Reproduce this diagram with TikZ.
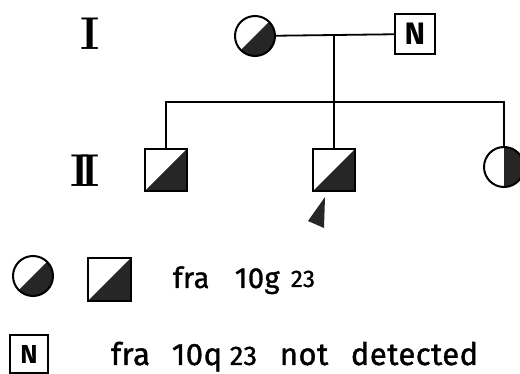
\documentclass[tikz,border=0pt]{standalone}
\usepackage{fontspec}
\newfontfamily\lgd{Fira Sans}[LetterSpace=1.5,FakeBold=1.2]
\newfontfamily\lgdN{Fira Sans}
\begin{document}
\begin{tikzpicture}[x=1pt,y=-1pt,line width=1.8pt,
  fillc/.style={black!85},
  halfsq/.style={draw, rectangle, minimum size=#1, inner sep=0pt, line width=2pt,
    path picture={\fill[fillc] (path picture bounding box.south west) -- (path picture bounding box.north east) -- (path picture bounding box.south east) -- cycle;}},
  halfci/.style={draw, circle, minimum size=#1, inner sep=0pt, line width=2pt,
    path picture={\fill[fillc] (path picture bounding box.south west) -- (path picture bounding box.north east) -- (path picture bounding box.south east) -- cycle;}},
  vhalfci/.style={draw, circle, minimum size=#1, inner sep=0pt, line width=2pt,
    path picture={\fill[fillc] (path picture bounding box.south) rectangle (path picture bounding box.north east);}},
  normsq/.style={draw, rectangle, minimum size=#1, inner sep=0pt, line width=2pt, font=\lgdN\bfseries\fontsize{31}{31}\selectfont},
  gen/.style={font=\bfseries\fontsize{46}{46}\selectfont, inner sep=0pt},
  lg/.style={anchor=base west, inner sep=0pt, font=\lgd\fontsize{#1}{#1}\selectfont}
]
\useasboundingbox (0,0) rectangle (520,374);
% generation labels
\node[gen] (g1) at (90,34) {I};
\node[gen] (g2) at (85,171) {I\kern-9ptI};
% generation I
\node[halfci=40] (i1) at (255,36) {};
\node[normsq=40] (i2) at (415,34) {N};
\coordinate (m) at (334,34);
\coordinate (s) at (334,102);
% generation II
\node[halfsq=42] (ii1) at (166,170) {};
\node[halfsq=42] (ii2) at (334,170) {};
\node[vhalfci=40] (ii3) at (504,167) {};
% connectors
\draw (i1) -- (i2);
\draw (m) -- (s);
\draw (ii1) -- (ii1 |- s) -- (ii3 |- s) -- (ii3);
\draw (s) -- (ii2);
% proband arrow
\fill[fillc] (325,197) -- (308,221) -- (324,228) -- cycle;
% legend
\node[halfci=40] (l1) at (33,276) {};
\node[halfsq=43] (l2) at (109,280) {};
\node[lg=29] (t1) at (172,288) {fra};
\node[lg=29] (t2) at (234,288) {10g};
\node[lg=24] (t3) at (290,287) {23};
\node[normsq=38, font=\lgdN\bfseries\fontsize{26}{26}\selectfont] (l3) at (29,354) {N};
\node[lg=31] (u1) at (110,365) {fra};
\node[lg=31] (u2) at (171,365) {10q};
\node[lg=27] (u3) at (229,365) {23};
\node[lg=31] (u4) at (279,365) {not};
\node[lg=31] (u5) at (350,365) {detected};
\end{tikzpicture}
\end{document}
